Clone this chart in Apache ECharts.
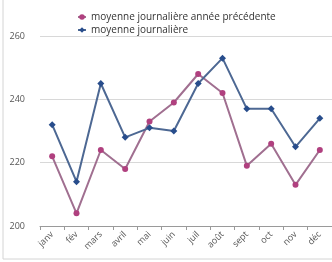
<!DOCTYPE html>
<html>
<head>
<meta charset="utf-8">
<script src="https://cdn.jsdelivr.net/npm/echarts@6/dist/echarts.min.js"></script>
<style>
  html, body { margin: 0; padding: 0; background: #fff; }
  #chart { width: 332px; height: 262px; }
</style>
</head>
<body>
<div id="chart"></div>
<script>
const months = ['janv', 'fév', 'mars', 'avril', 'mai', 'juin', 'juil', 'août', 'sept', 'oct', 'nov', 'déc']
const prevYear = [222, 204, 224, 218, 233, 239, 248, 242, 219, 226, 213, 224]
const current = [232, 214, 245, 228, 231, 230, 245, 253, 237, 237, 225, 234]
const yTicks = [200, 220, 240, 260]

let chart = echarts.init(document.getElementById('chart'))
let option = {
  animation: false,
  textStyle: { fontFamily: 'Open Sans' },
  graphic: [
    { type: 'line', shape: { x1: 3, y1: 0, x2: 3, y2: 259 }, style: { stroke: '#d4d4d4', lineWidth: 1 } },
    { type: 'line', shape: { x1: 3, y1: 259, x2: 332, y2: 259 }, style: { stroke: '#d4d4d4', lineWidth: 1 } }
  ],
  legend: {
    orient: 'vertical',
    left: 72,
    top: 7,
    itemGap: 3,
    itemWidth: 8,
    itemHeight: 7,
    textStyle: { fontSize: 10, color: '#333' },
    data: ['moyenne journalière année précédente', 'moyenne journalière']
  },
  grid: { left: 40, right: 0, top: 36, bottom: 36 },
  xAxis: {
    type: 'category',
    data: months,
    boundaryGap: true,
    axisLine: { lineStyle: { color: '#9a9a9a' } },
    axisTick: { show: true, length: 4, lineStyle: { color: '#9a9a9a' } },
    axisLabel: { rotate: 45, fontSize: 9, color: '#555', margin: 7 }
  },
  yAxis: {
    type: 'value',
    min: yTicks[0],
    max: yTicks[yTicks.length - 1],
    interval: 20,
    axisLine: { show: false },
    axisTick: { show: false },
    axisLabel: { fontSize: 9, color: '#555', margin: 15 },
    splitLine: { lineStyle: { color: '#d8d8d8' } }
  },
  series: [
    {
      name: 'moyenne journalière année précédente',
      type: 'line',
      data: prevYear,
      symbol: 'circle',
      symbolSize: 6,
      lineStyle: { color: '#a06f90', width: 2 },
      itemStyle: { color: '#b0407f' }
    },
    {
      name: 'moyenne journalière',
      type: 'line',
      data: current,
      symbol: 'diamond',
      symbolSize: 7,
      lineStyle: { color: '#4d6893', width: 2 },
      itemStyle: { color: '#284d8c' }
    }
  ]
}
chart.setOption(option)
</script>
</body>
</html>
